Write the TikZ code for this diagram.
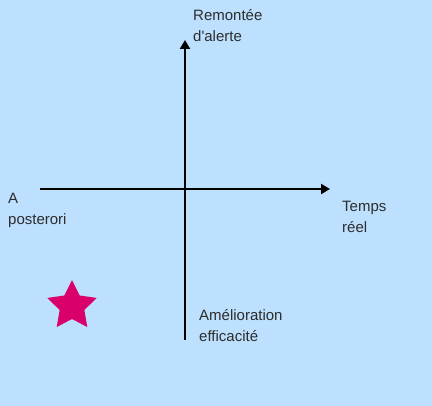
\documentclass[tikz,border=0pt]{standalone}
\usepackage{fontspec}
\setmainfont{Liberation Sans}
\usetikzlibrary{shapes.geometric,arrows.meta}
\definecolor{bgblue}{RGB}{189,224,254}
\definecolor{starpink}{RGB}{217,0,108}
\definecolor{labelgray}{RGB}{45,45,45}
\tikzstyle{axis} = [draw,line width=2.8pt,-{Triangle[length=9pt,width=10pt]}]
\tikzstyle{axislabel} = [font=\fontsize{15}{21}\selectfont, text=labelgray, align=left, anchor=base west, inner sep=0pt]
\tikzstyle{mark star} = [star,star points=5,star point ratio=2,minimum size=52pt,inner sep=0pt,fill=starpink]

\begin{document}
\begin{tikzpicture}[x=1pt,y=-1pt]
    % Background and bounding box
    \fill[bgblue] (0,0) rectangle (432,406);
    \useasboundingbox (0,0) rectangle (432,406);

    % Axes ends
    \coordinate (top) at (185,40);
    \coordinate (bottom) at (185,340);
    \coordinate (left) at (40,189);
    \coordinate (right) at (330,189);

    \path[axis] (bottom) -- (top);
    \path[axis] (left) -- (right);

    % Labels of the four directions (placed at the last baseline)
    \foreach \pos/\name/\txt in {{(193,42)/alerte/Remontée\\d\textquotesingle alerte}, {(8,225)/posteriori/A\\posterori}, {(342,233)/reel/Temps\\réel}, {(199,342)/efficacite/Amélioration\\efficacité}}
        \node[axislabel] (\name) at \pos {\txt};

    % Star
    \node[mark star] (star) at (72,306) {};
\end{tikzpicture}
\end{document}
